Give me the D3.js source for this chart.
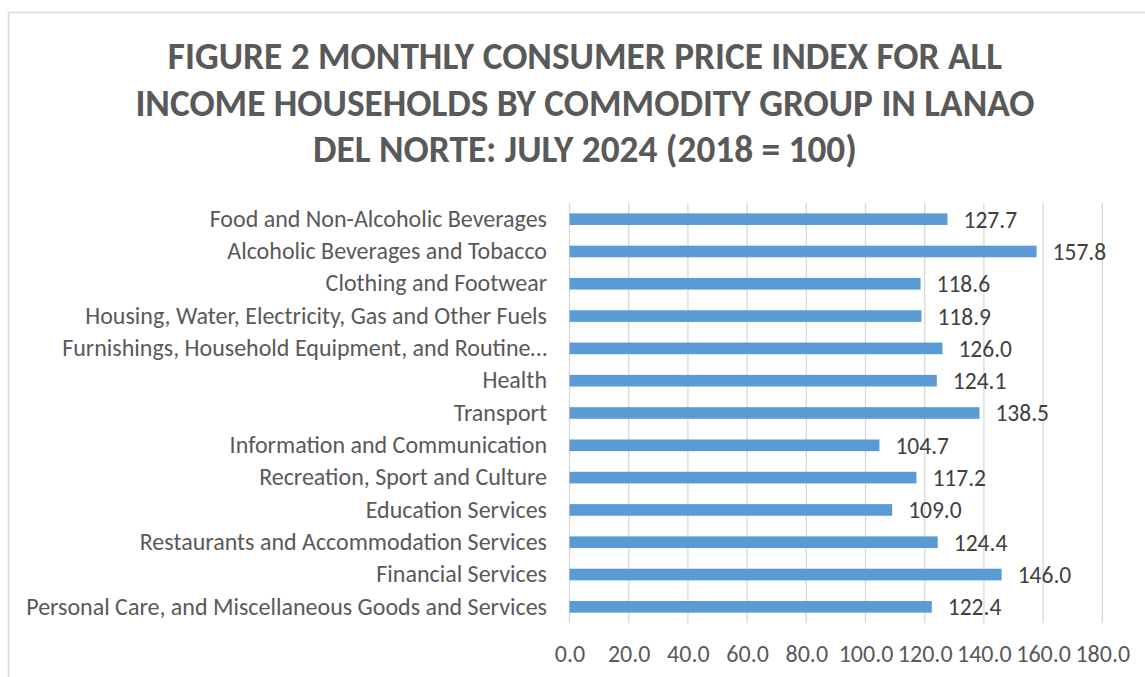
<!DOCTYPE html>
<html lang="en">
  <head>
    <meta charset="utf-8">
    <title>Figure 2 CPI Lanao del Norte</title>
    <script src="https://d3js.org/d3.v7.min.js"></script>
    <style>
      body { margin: 0; background: #fff; }
      svg { display: block; font-family: Carlito, Calibri, "Open Sans", sans-serif; }
      .grid line { stroke: #d9d9d9; stroke-width: 1.3px; }
      .bar { fill: #5b9bd5; }
    </style>
  </head>
  <body>
    <script>
    // chart data
    var titleLines = ['FIGURE 2 MONTHLY CONSUMER PRICE INDEX FOR ALL',
                      'INCOME HOUSEHOLDS BY COMMODITY GROUP IN LANAO',
                      'DEL NORTE: JULY 2024 (2018 = 100)'];

    var categories = ['Food and Non-Alcoholic Beverages',
                      'Alcoholic Beverages and Tobacco',
                      'Clothing and Footwear',
                      'Housing, Water, Electricity, Gas and Other Fuels',
                      'Furnishings, Household Equipment, and Routine\u2026',
                      'Health',
                      'Transport',
                      'Information and Communication',
                      'Recreation, Sport and Culture',
                      'Education Services',
                      'Restaurants and Accommodation Services',
                      'Financial Services',
                      'Personal Care, and Miscellaneous Goods and Services'];

    var values = [127.7, 157.8, 118.6, 118.9, 126.0, 124.1, 138.5,
                  104.7, 117.2, 109.0, 124.4, 146.0, 122.4];

    var xTicks = [0, 20, 40, 60, 80, 100, 120, 140, 160, 180];

    var w = 1145, h = 677;
    var svg = d3.select('body').append('svg')
                .attr('width', w)
                .attr('height', h);

    // chart area border (runs off the right and bottom edge)
    svg.append('rect')
       .attr('x', 8.5).attr('y', 12.5)
       .attr('width', w + 20).attr('height', h + 20)
       .attr('fill', 'none')
       .attr('stroke', '#d9d9d9')
       .attr('stroke-width', 1.5);

    // title
    svg.append('g')
       .selectAll('text')
       .data(titleLines)
       .enter().append('text')
       .attr('x', 585)
       .attr('y', function(d, i) { return 69 + i * 46.5; })
       .attr('text-anchor', 'middle')
       .attr('fill', '#595959')
       .attr('font-size', 37.3)
       .attr('font-weight', 'bold')
       .text(function(d) { return d; });

    var x = d3.scaleLinear()
              .domain([0, 180])
              .range([569.5, 1102.3]);

    var y = d3.scaleBand()
              .domain(categories)
              .range([203, 623])
              .paddingInner(0.64)
              .paddingOuter(0.32);

    // vertical gridlines
    svg.append('g')
       .attr('class', 'grid')
       .selectAll('line')
       .data(xTicks)
       .enter().append('line')
       .attr('x1', function(d) { return x(d); })
       .attr('x2', function(d) { return x(d); })
       .attr('y1', 203)
       .attr('y2', 623);

    // bars
    svg.append('g')
       .selectAll('rect')
       .data(values)
       .enter().append('rect')
       .attr('class', 'bar')
       .attr('x', x(0))
       .attr('y', function(d, i) { return y(categories[i]); })
       .attr('width', function(d) { return x(d) - x(0); })
       .attr('height', y.bandwidth());

    // value labels
    svg.append('g')
       .selectAll('text')
       .data(values)
       .enter().append('text')
       .attr('x', function(d) { return x(d) + 16; })
       .attr('y', function(d, i) { return y(categories[i]) + y.bandwidth() / 2; })
       .attr('dy', '0.36em')
       .attr('fill', '#404040')
       .attr('font-size', 23.5)
       .text(function(d) { return d.toFixed(1); });

    // category axis (left)
    var yAxis = svg.append('g')
       .attr('transform', 'translate(547,0)')
       .call(d3.axisLeft(y).tickSize(0).tickPadding(0));
    yAxis.select('.domain').remove();
    yAxis.attr('font-family', null);
    yAxis.selectAll('text')
         .attr('fill', '#595959')
         .attr('font-size', 24);

    // value axis (bottom)
    var xAxis = svg.append('g')
       .attr('transform', 'translate(0,623)')
       .call(d3.axisBottom(x).tickValues(xTicks).tickSize(0).tickPadding(22)
                .tickFormat(function(d) { return d.toFixed(1); }));
    xAxis.select('.domain').remove();
    xAxis.attr('font-family', null);
    xAxis.selectAll('text')
         .attr('fill', '#595959')
         .attr('font-size', 24);
    </script>
  </body>
</html>
